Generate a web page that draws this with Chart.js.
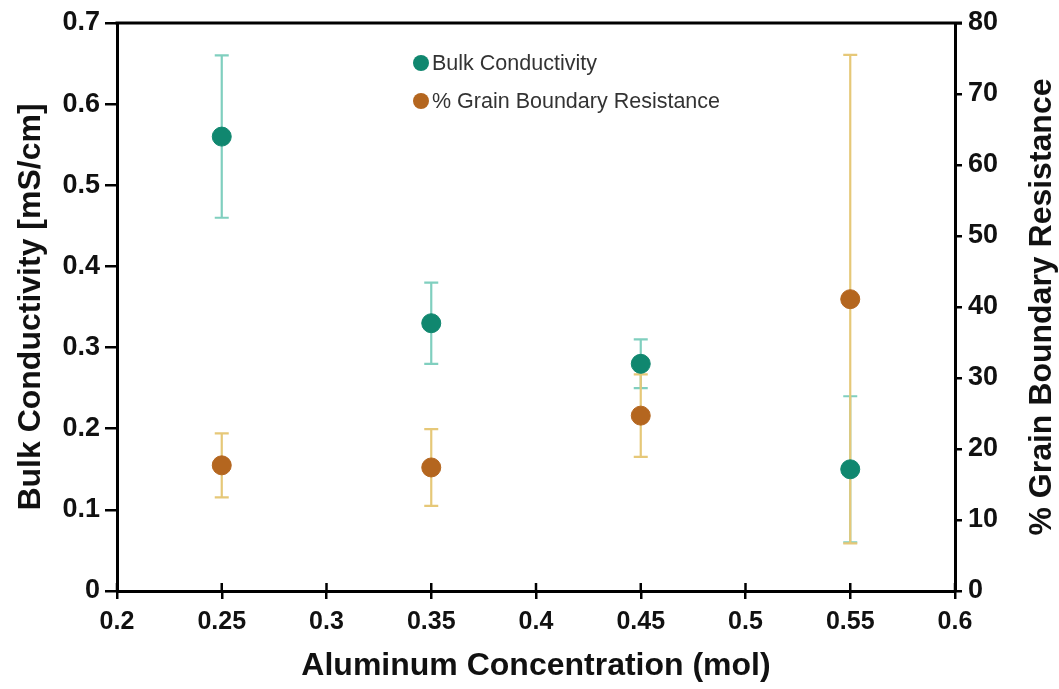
<!DOCTYPE html>
<html lang="en">
<head>
  <meta charset="UTF-8" />
  <title>Bulk Conductivity vs Aluminum Concentration</title>
  <script src="https://cdn.jsdelivr.net/npm/chart.js"></script>
  <style>
    html, body { margin: 0; padding: 0; background: #fff; }
    .wrap { position: relative; width: 1059px; height: 689px; }
    .legend {
      position: absolute; left: 413px; top: 44px;
      font-family: "Liberation Sans", Arial, sans-serif; font-size: 21.5px; color: #333;
    }
    .legend div { display: flex; align-items: center; height: 38px; }
    .legend span.dot { width: 16px; height: 16px; border-radius: 50%; margin-right: 3px; display: inline-block; }
  </style>
</head>
<body>
  <div class="wrap">
    <canvas id="chart" width="1059" height="689"></canvas>
    <div class="legend">
      <div><span class="dot" style="background:#10876f"></span>Bulk Conductivity</div>
      <div><span class="dot" style="background:#b4661f"></span>% Grain Boundary Resistance</div>
    </div>
  </div>

  <script>
    // data
    const concentration = [0.25, 0.35, 0.45, 0.55];
    const bulkConductivity = [0.56, 0.33, 0.28, 0.15];
    const bulkError = [0.10, 0.05, 0.03, 0.09];
    const grainBoundary = [17.7, 17.4, 24.7, 41.1];
    const grainError = [4.5, 5.4, 5.8, 34.4];
    const rightTitle = '% Grain Boundary Resistance';

    const tealDot = '#10876f';
    const tealBar = '#80cfbf';
    const goldDot = '#b4661f';
    const goldBar = '#e6c878';

    const fontName = '"Liberation Sans", Arial, sans-serif';
    const fmt = v => String(+v.toFixed(2));

    // error bars behind the points, plus the box top, inner x ticks and right title
    const errorBars = {
      id: 'errorBars',
      beforeDatasetsDraw(chart) {
        const ctx = chart.ctx;
        const x = chart.scales.x;
        const sets = [
          { vals: bulkConductivity, err: bulkError, axis: chart.scales.y, color: tealBar },
          { vals: grainBoundary, err: grainError, axis: chart.scales.y1, color: goldBar }
        ];
        ctx.save();
        ctx.lineWidth = 2.2;
        sets.forEach(s => {
          ctx.strokeStyle = s.color;
          concentration.forEach((c, i) => {
            const px = x.getPixelForValue(c);
            const top = s.axis.getPixelForValue(s.vals[i] + s.err[i]);
            const bot = s.axis.getPixelForValue(s.vals[i] - s.err[i]);
            ctx.beginPath();
            ctx.moveTo(px, top); ctx.lineTo(px, bot);
            ctx.moveTo(px - 7, top); ctx.lineTo(px + 7, top);
            ctx.moveTo(px - 7, bot); ctx.lineTo(px + 7, bot);
            ctx.stroke();
          });
        });
        ctx.restore();
      },
      afterDraw(chart) {
        const ctx = chart.ctx;
        const a = chart.chartArea;
        const x = chart.scales.x;
        ctx.save();
        ctx.strokeStyle = '#000';
        ctx.lineWidth = 3;
        ctx.beginPath();
        ctx.moveTo(a.left - 1.5, a.top); ctx.lineTo(a.right + 7, a.top);
        ctx.stroke();
        ctx.lineWidth = 2.5;
        x.ticks.forEach(t => {
          const px = x.getPixelForValue(t.value);
          ctx.beginPath();
          ctx.moveTo(px, a.bottom); ctx.lineTo(px, a.bottom - 8);
          ctx.stroke();
        });
        // right title reads bottom to top like the left one
        ctx.translate(1042, (a.top + a.bottom) / 2);
        ctx.rotate(-Math.PI / 2);
        ctx.fillStyle = '#111';
        ctx.font = 'bold 32px ' + fontName;
        ctx.textAlign = 'center';
        ctx.textBaseline = 'middle';
        ctx.fillText(rightTitle, 0, 0);
        ctx.restore();
      }
    };

    new Chart(document.getElementById('chart'), {
      type: 'scatter',
      data: {
        datasets: [
          {
            label: 'Bulk Conductivity',
            data: concentration.map((c, i) => ({ x: c, y: bulkConductivity[i] })),
            yAxisID: 'y',
            backgroundColor: tealDot,
            borderColor: tealDot,
            pointRadius: 9.5
          },
          {
            label: rightTitle,
            data: concentration.map((c, i) => ({ x: c, y: grainBoundary[i] })),
            yAxisID: 'y1',
            backgroundColor: goldDot,
            borderColor: goldDot,
            pointRadius: 9.5
          }
        ]
      },
      options: {
        responsive: false,
        animation: false,
        layout: { padding: { top: 23, left: 0, right: 0, bottom: 0 } },
        plugins: { legend: { display: false }, tooltip: { enabled: false } },
        scales: {
          x: {
            type: 'linear', min: 0.2, max: 0.6,
            afterBuildTicks: s => { s.ticks = [0.2, 0.25, 0.3, 0.35, 0.4, 0.45, 0.5, 0.55, 0.6].map(v => ({ value: v })); },
            afterFit: s => { s.height = 98; },
            border: { color: '#000', width: 3 },
            grid: { drawOnChartArea: false, color: '#000', lineWidth: 2.5, tickLength: 8 },
            ticks: { color: '#111', padding: 8, font: { family: fontName, size: 25, weight: 'bold' }, callback: fmt, maxRotation: 0 },
            title: { display: true, text: 'Aluminum Concentration (mol)', color: '#111', padding: { bottom: 4 }, font: { family: fontName, size: 32, weight: 'bold' } }
          },
          y: {
            type: 'linear', position: 'left', min: 0, max: 0.7,
            ticks: { stepSize: 0.1, color: '#111', padding: 5, font: { family: fontName, size: 27, weight: 'bold' }, callback: fmt },
            afterFit: s => { s.width = 117; },
            border: { color: '#000', width: 3 },
            grid: { drawOnChartArea: false, color: '#000', lineWidth: 2.5, tickLength: 12 },
            title: { display: true, text: 'Bulk Conductivity [mS/cm]', color: '#111', padding: { top: 12 }, font: { family: fontName, size: 32, weight: 'bold' } }
          },
          y1: {
            type: 'linear', position: 'right', min: 0, max: 80,
            ticks: { stepSize: 10, color: '#111', padding: 6, font: { family: fontName, size: 27, weight: 'bold' } },
            afterFit: s => { s.width = 104; },
            border: { color: '#000', width: 3 },
            grid: { drawOnChartArea: false, color: '#000', lineWidth: 2.5, tickLength: 7 },
            title: { display: false }
          }
        }
      },
      plugins: [errorBars]
    });
  </script>
</body>
</html>
